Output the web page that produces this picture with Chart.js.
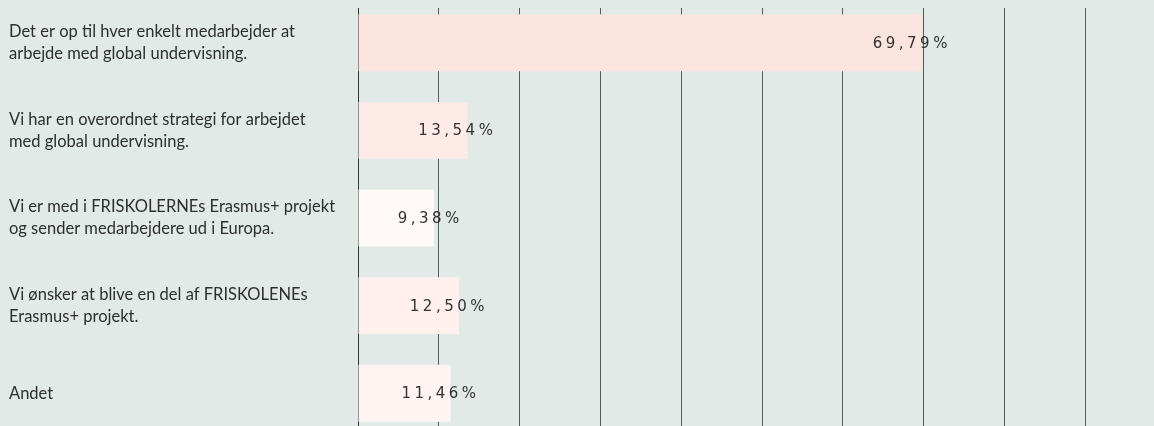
<!DOCTYPE html>
<html>
<head>
<meta charset="utf-8">
<script src="https://cdn.jsdelivr.net/npm/chart.js@4"></script>
<style>
  html, body { margin: 0; padding: 0; background: #e1eae6; overflow: hidden; }
  #wrap { position: absolute; left: 0; top: -12px; width: 1166px; height: 471px; }
</style>
</head>
<body>
<div id="wrap"><canvas id="bar-chart" width="1166" height="471"></canvas></div>
<script>
// categories and answers (percent)
var categories = [
  ["Det er op til hver enkelt medarbejder at", "arbejde med global undervisning."],
  ["Vi har en overordnet strategi for arbejdet", "med global undervisning."],
  ["Vi er med i FRISKOLERNEs Erasmus+ projekt", "og sender medarbejdere ud i Europa."],
  ["Vi ønsker at blive en del af FRISKOLENEs", "Erasmus+ projekt."],
  ["Andet"]
];
var values = [69.79, 13.54, 9.38, 12.50, 11.46];
var barColors = ["#fde5df", "#feebe8", "#fffaf7", "#fff0ee", "#fff4f2"];

var bgColor = "#e1eae6";

// draws the value next to the end of each bar
var valueLabels = {
  id: "valueLabels",
  afterDatasetsDraw: function (chart) {
    var ctx = chart.ctx;
    var meta = chart.getDatasetMeta(0);
    ctx.save();
    ctx.font = "15px 'DejaVu Sans'";
    ctx.fillStyle = "#333333";
    ctx.textAlign = "right";
    ctx.textBaseline = "middle";
    ctx.letterSpacing = "3.5px";
    meta.data.forEach(function (bar, i) {
      var txt = values[i].toFixed(2).replace(".", ",") + "%";
      ctx.fillText(txt, bar.x + 29, bar.y + 1);
    });
    ctx.restore();
  }
};

// grid lines start a little below the top edge
var trimTop = {
  id: "trimTop",
  beforeDatasetsDraw: function (chart) {
    var ctx = chart.ctx;
    ctx.save();
    ctx.fillStyle = bgColor;
    ctx.fillRect(chart.chartArea.left - 2, 0, chart.width, 20);
    ctx.restore();
  }
};

var ctx = document.getElementById("bar-chart").getContext("2d");
new Chart(ctx, {
  type: "bar",
  data: {
    labels: categories,
    datasets: [{
      data: values,
      backgroundColor: barColors,
      borderWidth: 0,
      categoryPercentage: 1,
      barPercentage: 0.65
    }]
  },
  options: {
    indexAxis: "y",
    responsive: false,
    animation: false,
    layout: { padding: { left: 9, right: 0, top: 0, bottom: 0 } },
    plugins: {
      legend: { display: false },
      tooltip: { enabled: false }
    },
    scales: {
      x: {
        min: 0,
        max: 100,
        ticks: { display: false, stepSize: 10 },
        grid: { color: "#555b58", lineWidth: 1, drawTicks: false },
        border: { display: false }
      },
      y: {
        afterFit: function (axis) { axis.width = 349; },
        ticks: {
          crossAlign: "far",
          color: "#2e2e2e",
          padding: 0,
          font: { family: "Lato", size: 16.5, lineHeight: 1.33 }
        },
        grid: { display: false },
        border: { color: "#333333", width: 1 }
      }
    }
  },
  plugins: [trimTop, valueLabels]
});
</script>
</body>
</html>
